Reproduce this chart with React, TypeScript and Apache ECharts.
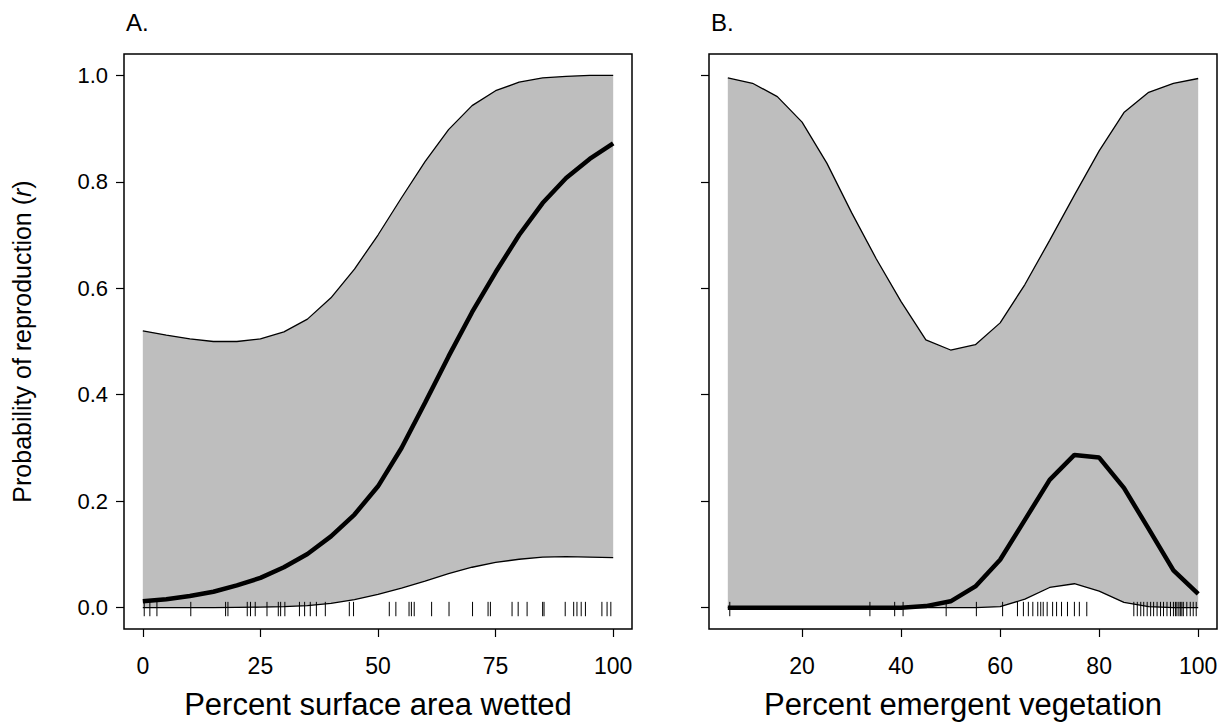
import React, { useEffect, useRef } from "react";
import * as echarts from "echarts";

// Panel A: Percent surface area wetted
const xA = [0, 5, 10, 15, 20, 25, 30, 35, 40, 45, 50, 55, 60, 65, 70, 75, 80, 85, 90, 95, 100];
const upperA = [0.52, 0.512, 0.505, 0.5, 0.5, 0.505, 0.518, 0.542, 0.582, 0.636, 0.7, 0.77, 0.838, 0.898, 0.943, 0.971, 0.987, 0.995, 0.998, 1.0, 1.0];
const meanA = [0.012, 0.016, 0.022, 0.03, 0.042, 0.056, 0.076, 0.101, 0.134, 0.175, 0.228, 0.3, 0.385, 0.472, 0.555, 0.63, 0.7, 0.76, 0.807, 0.843, 0.872];
const lowerA = [0, 0, 0, 0, 0.0005, 0.001, 0.002, 0.004, 0.008, 0.015, 0.025, 0.037, 0.05, 0.064, 0.076, 0.085, 0.091, 0.095, 0.096, 0.095, 0.094];
const rugA = [0.3, 1.5, 3, 10.2, 17.6, 18.1, 22.2, 22.9, 23.9, 26.4, 28.8, 29.3, 30.2, 33.3, 34.4, 35.6, 36.9, 38.8, 43.9, 44.8, 52.4, 53.8, 56.6, 57.1, 57.7, 61.4, 65.1, 70.1, 73.4, 73.9, 78.5, 79.8, 81.7, 85.0, 85.3, 89.8, 91.6, 92.3, 93.2, 94.1, 97.6, 98.7, 99.5];

// Panel B: Percent emergent vegetation
const xB = [5, 10, 15, 20, 25, 30, 35, 40, 45, 50, 55, 60, 65, 70, 75, 80, 85, 90, 95, 100];
const upperB = [0.995, 0.985, 0.96, 0.912, 0.835, 0.742, 0.655, 0.575, 0.503, 0.484, 0.494, 0.535, 0.607, 0.69, 0.775, 0.858, 0.93, 0.968, 0.985, 0.994];
const meanB = [0, 0, 0, 0, 0, 0, 0, 0, 0.003, 0.012, 0.04, 0.09, 0.165, 0.24, 0.287, 0.282, 0.225, 0.148, 0.07, 0.026];
const lowerB = [0, 0, 0, 0, 0, 0, 0, 0, 0, 0, 0, 0.002, 0.016, 0.038, 0.045, 0.031, 0.01, 0.002, 0, 0];
const rugB = [5.4, 33.7, 38.7, 40.4, 49.1, 55.2, 60.5, 63.5, 64.7, 65.7, 66.6, 67.6, 68.2, 68.7, 69.5, 70.6, 71.4, 72.4, 73.6, 75.0, 76.0, 77.5, 87.0, 87.7, 88.4, 89.0, 89.7, 90.4, 91.0, 91.7, 92.4, 93.0, 93.7, 94.4, 95.0, 95.4, 95.7, 96.1, 96.4, 96.7, 97.0, 97.7, 98.4, 99.0, 99.6];

const ticksXA = [0, 25, 50, 75, 100];
const ticksXB = [20, 40, 60, 80, 100];
const ticksY = [0, 0.2, 0.4, 0.6, 0.8, 1.0];

const FONT = "'Liberation Sans', Arial, sans-serif";

function bandSeries(idx: number, xs: number[], up: number[], lo: number[]) {
  return {
    type: "custom",
    xAxisIndex: idx,
    yAxisIndex: idx,
    silent: true,
    data: [[xs[0], 0]],
    encode: { x: 0, y: 1 },
    z: 1,
    renderItem: (_p: any, api: any) => {
      const pts: number[][] = [];
      xs.forEach((x, i) => pts.push(api.coord([x, up[i]])));
      for (let i = xs.length - 1; i >= 0; i--) pts.push(api.coord([xs[i], lo[i]]));
      return { type: "polygon", shape: { points: pts }, style: { fill: "#bebebe", stroke: "none" } };
    },
  };
}

function lineSeries(idx: number, xs: number[], ys: number[], width: number, z: number) {
  return {
    type: "line",
    xAxisIndex: idx,
    yAxisIndex: idx,
    silent: true,
    symbol: "none",
    z,
    data: xs.map((x, i) => [x, ys[i]]),
    lineStyle: { color: "#000", width },
  };
}

function rugSeries(idx: number, xs: number[]) {
  return {
    type: "custom",
    xAxisIndex: idx,
    yAxisIndex: idx,
    silent: true,
    z: 3,
    data: xs.map((x) => [x, 0]),
    encode: { x: 0, y: 1 },
    renderItem: (_p: any, api: any) => {
      const a = api.coord([api.value(0), 0.011]);
      const b = api.coord([api.value(0), -0.016]);
      return {
        type: "line",
        shape: { x1: a[0], y1: a[1], x2: b[0], y2: b[1] },
        style: { stroke: "#000", lineWidth: 1 },
      };
    },
  };
}

function xAxis(idx: number, min: number, max: number, ticks: number[], name: string) {
  return {
    type: "value",
    gridIndex: idx,
    min,
    max,
    axisLine: { show: false, onZero: false },
    splitLine: { show: false },
    axisTick: { show: true, customValues: ticks, length: 8, lineStyle: { color: "#000", width: 1.2 } },
    axisLabel: { show: true, customValues: ticks, fontSize: 23, color: "#000", margin: 25, fontFamily: FONT },
    name,
    nameLocation: "middle",
    nameGap: 60,
    nameTextStyle: { fontSize: 31, color: "#000", fontFamily: FONT },
  };
}

function yAxis(idx: number, showLabels: boolean) {
  return {
    type: "value",
    gridIndex: idx,
    min: -0.04,
    max: 1.04,
    axisLine: { show: false, onZero: false },
    splitLine: { show: false },
    axisTick: { show: true, customValues: ticksY, length: 8, lineStyle: { color: "#000", width: 1.2 } },
    axisLabel: {
      show: showLabels,
      customValues: ticksY,
      fontSize: 22,
      color: "#000",
      margin: 16,
      fontFamily: FONT,
      formatter: (v: number) => v.toFixed(1),
    },
    name: showLabels ? "Probability of reproduction ({i|r})" : "",
    nameLocation: "middle",
    nameGap: 90,
    nameTextStyle: {
      fontSize: 25,
      color: "#000",
      fontFamily: FONT,
      rich: { i: { fontSize: 25, fontStyle: "italic", color: "#000", fontFamily: FONT } },
    },
  };
}

export default function App() {
  const ref = useRef<HTMLDivElement>(null);
  useEffect(() => {
    if (!ref.current) return;
    const chart = echarts.init(ref.current, undefined, { renderer: "svg" });
    const gridBase = { top: 54, height: 575, width: 508, show: true, borderColor: "#000", borderWidth: 1.5, backgroundColor: "transparent" };
    chart.setOption({
      animation: false,
      backgroundColor: "#fff",
      textStyle: { fontFamily: FONT },
      title: [
        { text: "A.", left: 121, top: 5, textStyle: { fontSize: 24, fontWeight: "normal", color: "#000", fontFamily: FONT } },
        { text: "B.", left: 706, top: 5, textStyle: { fontSize: 24, fontWeight: "normal", color: "#000", fontFamily: FONT } },
      ],
      grid: [
        { ...gridBase, left: 124 },
        { ...gridBase, left: 709 },
      ],
      xAxis: [
        xAxis(0, -4, 104, ticksXA, "Percent surface area wetted"),
        xAxis(1, 1.2, 103.8, ticksXB, "Percent emergent vegetation"),
      ],
      yAxis: [yAxis(0, true), yAxis(1, false)],
      series: [
        bandSeries(0, xA, upperA, lowerA),
        lineSeries(0, xA, upperA, 1.3, 2),
        lineSeries(0, xA, lowerA, 1.3, 2),
        rugSeries(0, rugA),
        lineSeries(0, xA, meanA, 4.5, 4),
        bandSeries(1, xB, upperB, lowerB),
        lineSeries(1, xB, upperB, 1.3, 2),
        lineSeries(1, xB, lowerB, 1.3, 2),
        rugSeries(1, rugB),
        lineSeries(1, xB, meanB, 4.5, 4),
      ],
    });
    return () => chart.dispose();
  }, []);
  return <div ref={ref} style={{ position: "fixed", left: 0, top: 0, width: 1229, height: 725 }} />;
}
